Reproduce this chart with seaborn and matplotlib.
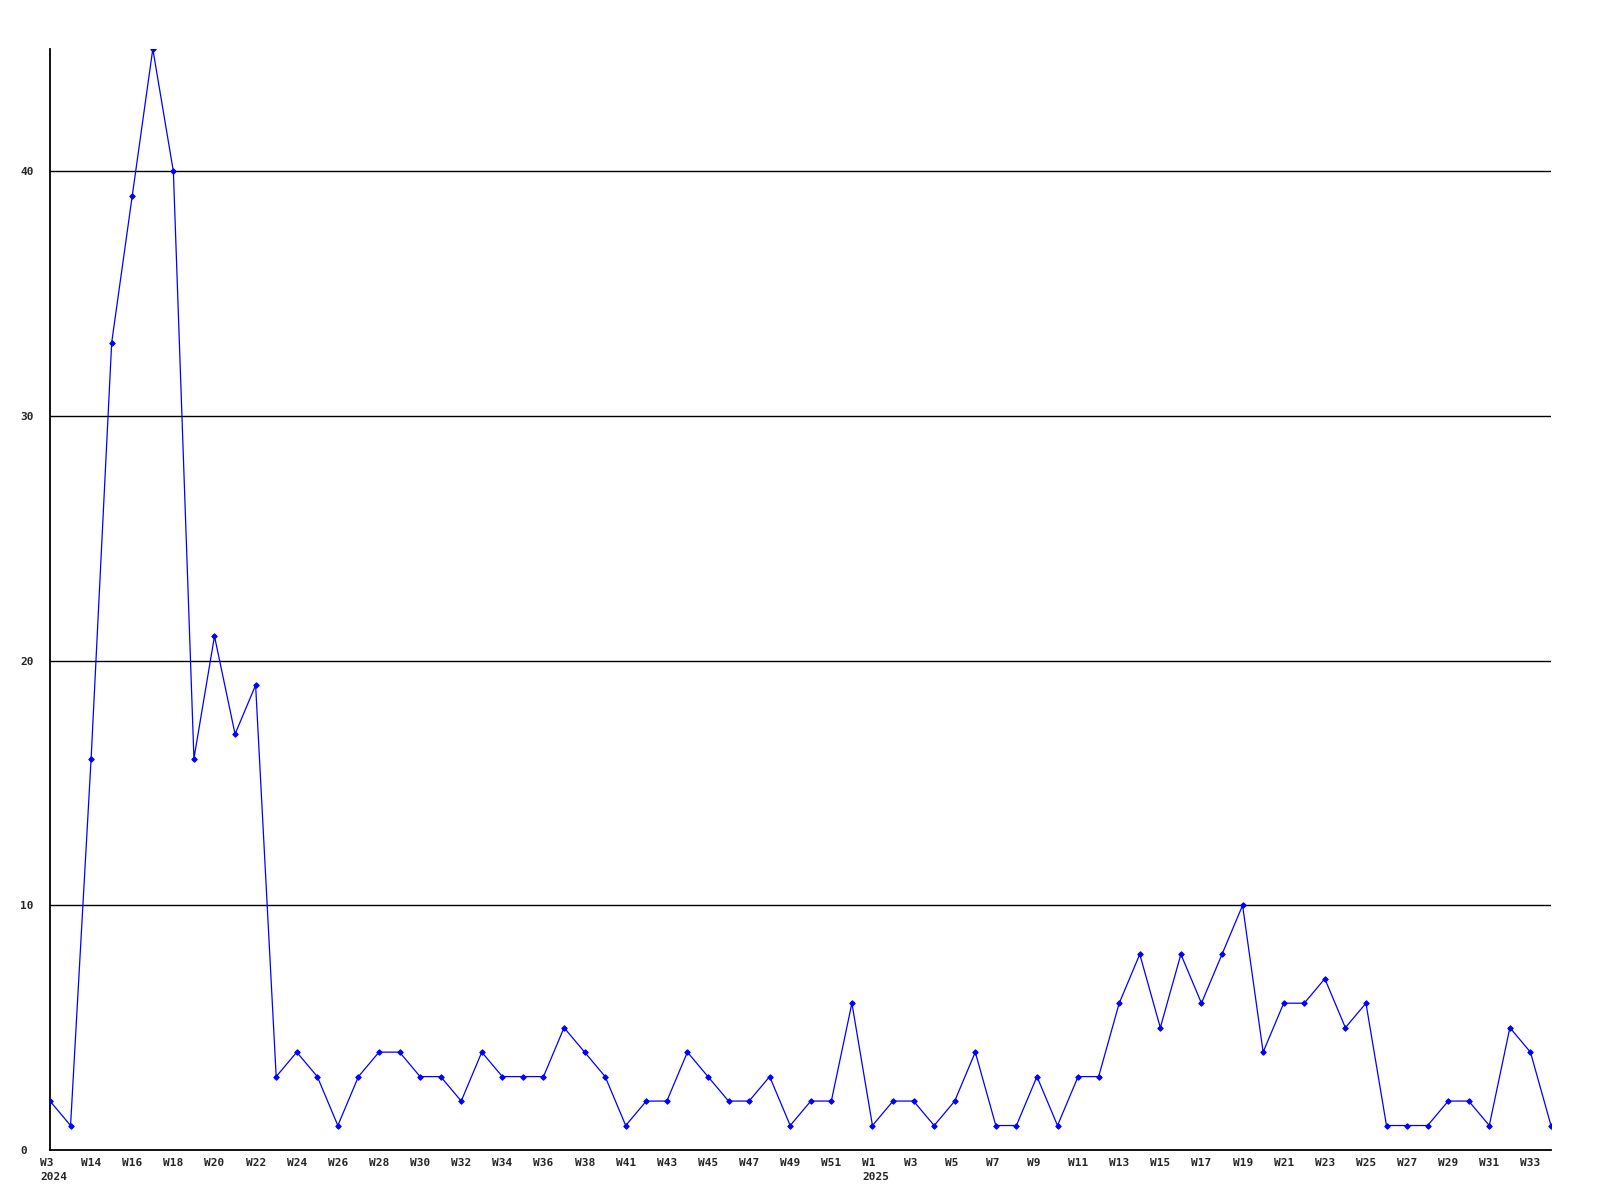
import matplotlib
matplotlib.use("Agg")
import matplotlib.pyplot as plt
import matplotlib.transforms as mtransforms
import seaborn as sns
import pandas as pd

weeks = ["W3", "W13", "W14", "W15", "W16", "W17", "W18", "W19", "W20", "W21",
         "W22", "W23", "W24", "W25", "W26", "W27", "W28", "W29", "W30", "W31",
         "W32", "W33", "W34", "W35", "W36", "W37", "W38", "W40", "W41", "W42",
         "W43", "W44", "W45", "W46", "W47", "W48", "W49", "W50", "W51", "W52",
         "W1", "W2", "W3", "W4", "W5", "W6", "W7", "W8", "W9", "W10",
         "W11", "W12", "W13", "W14", "W15", "W16", "W17", "W18", "W19", "W20",
         "W21", "W22", "W23", "W24", "W25", "W26", "W27", "W28", "W29", "W30",
         "W31", "W32", "W33", "W34"]
year_marks = {0: "2024", 40: "2025"}
values = [2, 1, 16, 33, 39, 45, 40, 16, 21, 17,
          19, 3, 4, 3, 1, 3, 4, 4, 3, 3,
          2, 4, 3, 3, 3, 5, 4, 3, 1, 2,
          2, 4, 3, 2, 2, 3, 1, 2, 2, 6,
          1, 2, 2, 1, 2, 4, 1, 1, 3, 1,
          3, 3, 6, 8, 5, 8, 6, 8, 10, 4,
          6, 6, 7, 5, 6, 1, 1, 1, 2, 2,
          1, 5, 4, 1]
yticks = [0, 10, 20, 30, 40]

df = pd.DataFrame({"idx": range(len(values)), "count": values})

sns.set_style("white")
plt.rcParams["font.family"] = ["DejaVu Sans Mono"]

fig = plt.figure(figsize=(16, 12), dpi=100)
ax = fig.add_axes([50 / 1600, 50 / 1200, (1551 - 50) / 1600, (1151 - 50) / 1200])

for t in yticks[1:]:
    ax.axhline(t, color="black", linewidth=1.0, zorder=1)

sns.lineplot(data=df, x="idx", y="count", ax=ax, color="#0000ff",
             linewidth=0.9, marker="D", markersize=2.8,
             markeredgecolor="#0000ff", markerfacecolor="#0000ff", zorder=3)

ax.set_xlim(0, len(values) - 1)
ax.set_ylim(0, 45)
ax.set_xlabel("")
ax.set_ylabel("")

tick_pos = list(range(0, len(values), 2))
tick_lab = []
for i in tick_pos:
    lab = weeks[i]
    if i in year_marks:
        lab = lab + "\n" + year_marks[i]
    tick_lab.append(lab)
ax.set_xticks(tick_pos)
ax.set_xticklabels(tick_lab, fontsize=8, fontweight="bold", ha="left",
                   multialignment="left", linespacing=1.55)
ax.set_yticks(yticks)
ax.set_yticklabels([str(t) for t in yticks], fontsize=8, fontweight="bold", ha="left")
ax.tick_params(axis="x", length=0, pad=5.5)
ax.tick_params(axis="y", length=0, pad=21.6)

offset = mtransforms.ScaledTranslation(-10 / 100, 0, fig.dpi_scale_trans)
for lab in ax.get_xticklabels():
    lab.set_transform(lab.get_transform() + offset)

for s in ["top", "right"]:
    ax.spines[s].set_visible(False)
for s in ["left", "bottom"]:
    ax.spines[s].set_color("black")
    ax.spines[s].set_linewidth(1.3)
ax.grid(False)

fig.savefig("out.png", dpi=100, facecolor="white")
